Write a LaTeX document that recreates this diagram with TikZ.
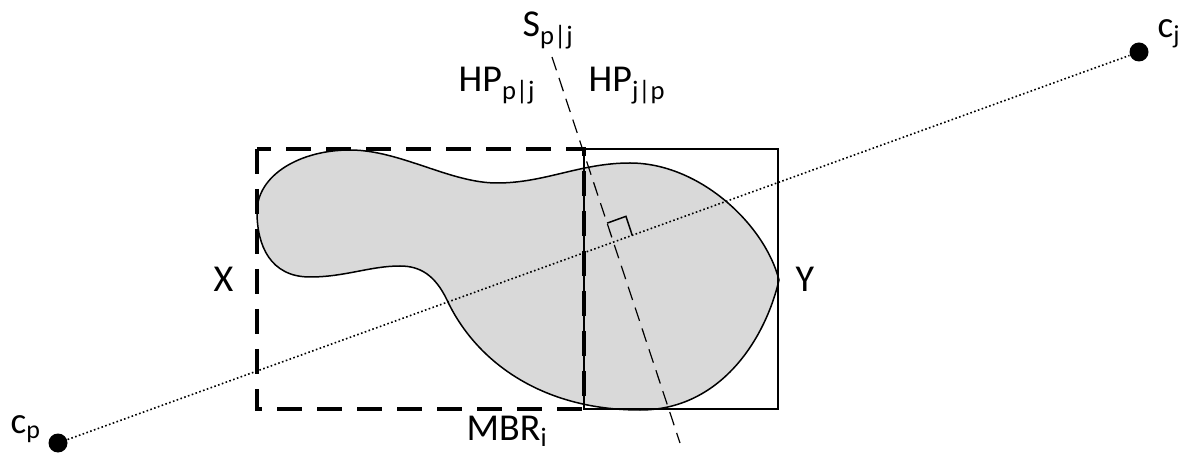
\documentclass[tikz,border=0pt]{standalone}
\usepackage{fontspec}
\setmainfont{Carlito}
\usetikzlibrary{calc}
\definecolor{blobgray}{HTML}{D9D9D9}
\begin{document}
\begin{tikzpicture}[x=0.5pt, y=-0.5pt, line width=0.7pt,
  font=\fontsize{19}{23}\selectfont,
  dot/.style={circle, fill=black, inner sep=0pt, minimum size=9.5pt},
  lbl/.style={inner sep=0pt, anchor=base west},
  clab/.style={font=\fontsize{18.5}{22}\selectfont},
  thickdash/.style={line width=2pt, dash pattern=on 12.5pt off 7.5pt},
  sepdash/.style={line width=0.6pt, dash pattern=on 7pt off 4pt},
  dotline/.style={line width=0.8pt, dash pattern=on 0.8pt off 1.2pt}]
  \useasboundingbox (0,0) rectangle (1186,453);
  % object
  \filldraw[fill=blobgray, line width=0.75pt] (257,212)
    .. controls (257,175) and (300,150) .. (350,150)
    .. controls (400,150) and (450,183) .. (497,183)
    .. controls (545,183) and (580,163) .. (630,163)
    .. controls (700,163) and (765,225) .. (779,280)
    .. controls (765,340) and (720,410) .. (640,410)
    .. controls (540,410) and (475,360) .. (447,300)
    .. controls (435,275) and (420,266) .. (400,266)
    .. controls (370,266) and (345,277) .. (310,277)
    .. controls (270,277) and (257,245) .. (257,212) -- cycle;
  % MBR halves
  \draw[thickdash] (257,149) rectangle (584,409);
  \draw[line width=0.65pt] (584,149) rectangle (778,409);
  % centres
  \node[dot] (cp) at (58,443) {};
  \node[dot] (cj) at (1139,52) {};
  \draw[dotline] (cp) -- (cj);
  % bisector
  \coordinate (stop) at (552,57);
  \coordinate (sbot) at (680,443);
  \draw[sepdash] (stop) -- (sbot);
  \coordinate (q) at (intersection of cp--cj and stop--sbot);
  \coordinate (q1) at ($(q)!10pt!(stop)$);
  \coordinate (q2) at ($(q)!10pt!(cj)$);
  \draw[line width=0.75pt] (q1) -- ($(q1)+(q2)-(q)$) -- (q2);
  % labels
  \node[lbl] (s) at (522,37) {S\textsubscript{p|j}};
  \node[lbl] (hpl) at (458,92) {HP\textsubscript{p|j}};
  \node[lbl] (hpr) at (588,92) {HP\textsubscript{j|p}};
  \node[lbl] (x) at (213,292) {X};
  \node[lbl] (y) at (795,292) {Y};
  \node[lbl] (mbr) at (466,440) {MBR\textsubscript{i}};
  \node[lbl, clab] (cpl) at (10,433) {c\textsubscript{p}};
  \node[lbl, clab] (cjl) at (1157,38) {c\textsubscript{j}};
\end{tikzpicture}
\end{document}
